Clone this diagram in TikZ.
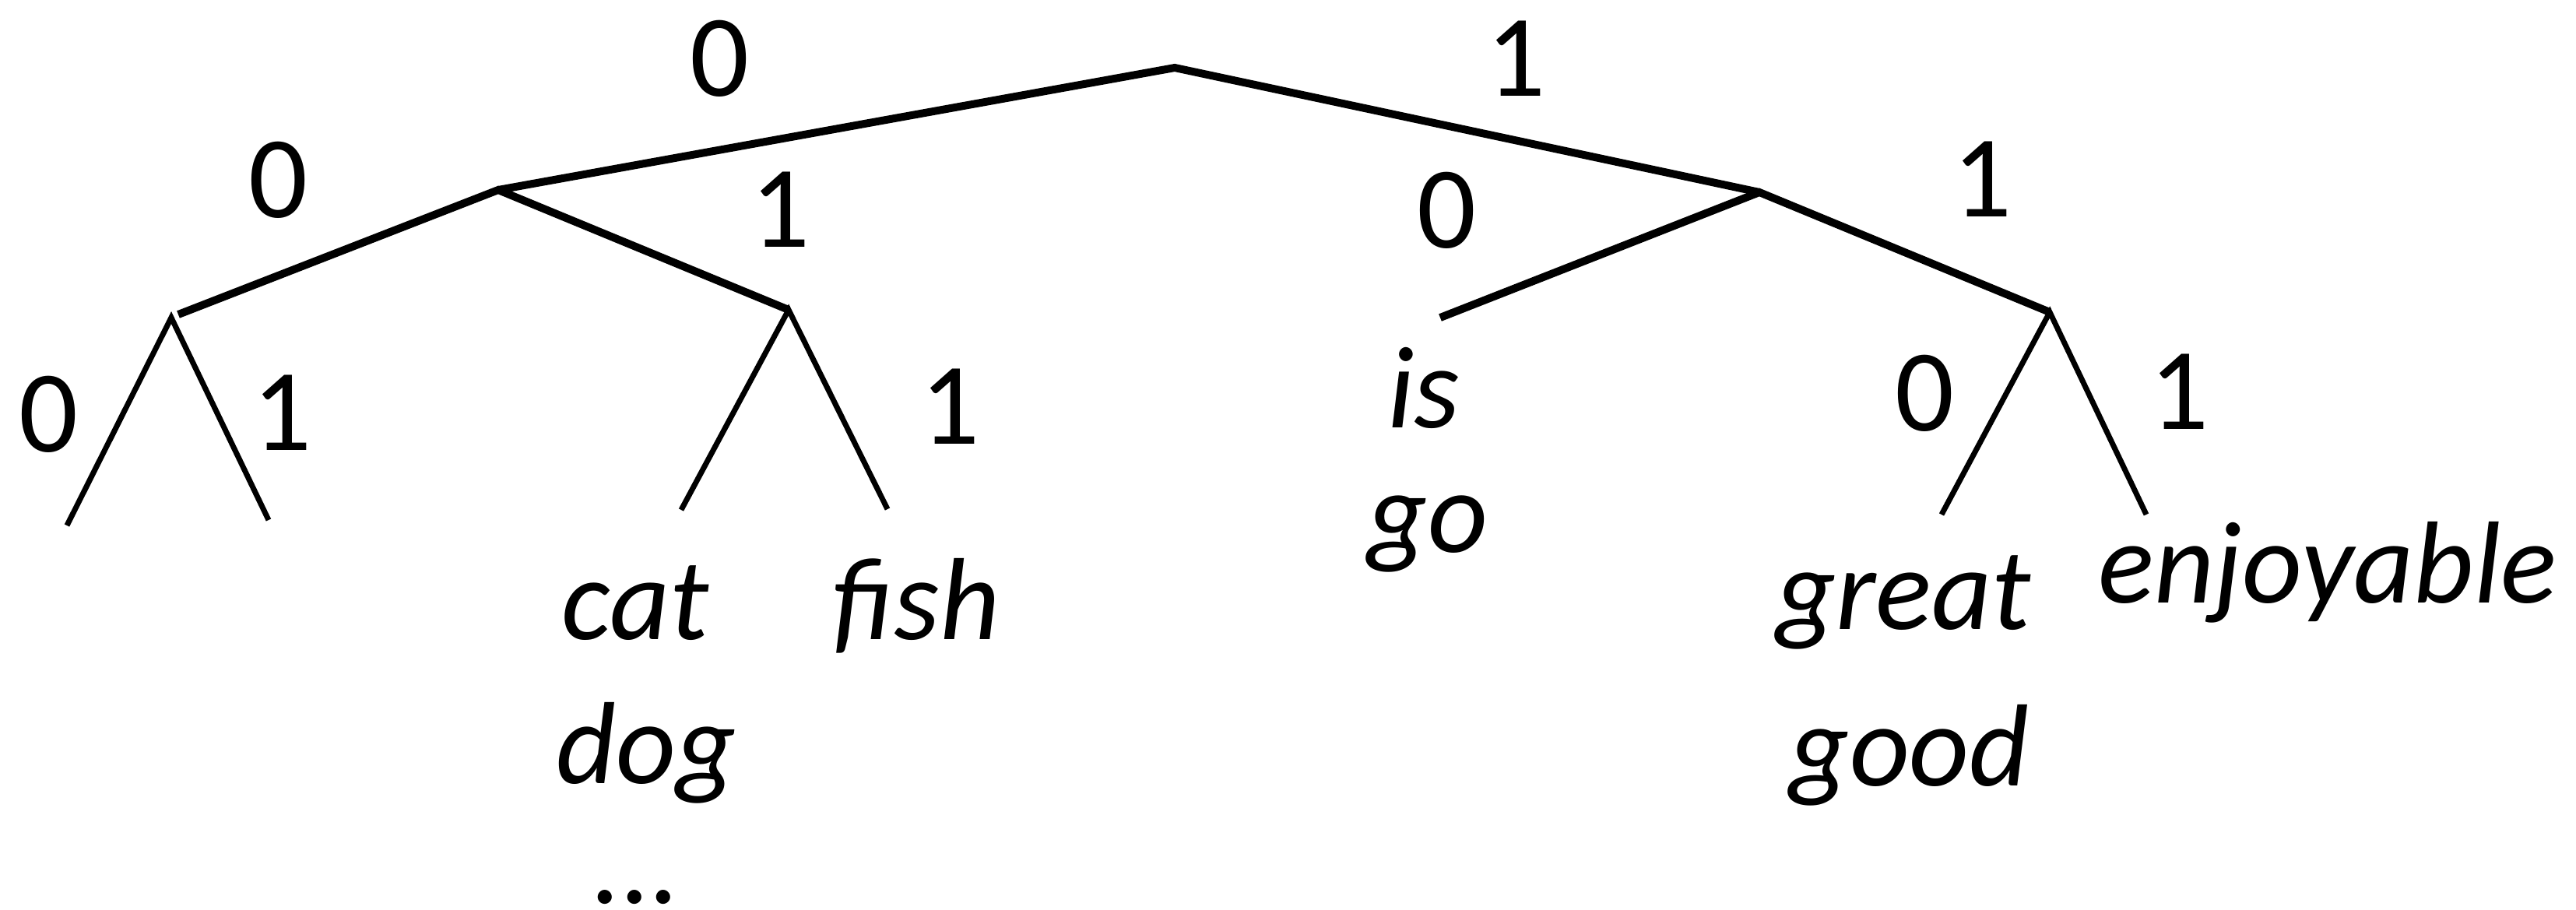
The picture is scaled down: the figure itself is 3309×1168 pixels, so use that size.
\documentclass[tikz,border=0pt]{standalone}
\usepackage{fontspec}
\setmainfont{Carlito}
\begin{document}
\begin{tikzpicture}[x=1pt,y=-1pt,
  thickedge/.style={line width=10pt},
  thinedge/.style={line width=7pt},
  bit/.style={inner sep=0pt,anchor=base,font=\fontsize{150}{180}\selectfont},
  word/.style={inner sep=0pt,anchor=base,font=\fontsize{150}{180}\selectfont\itshape}]
\clip (0,0) rectangle (3309,1168);
% tree points
\coordinate (r) at (1509,87);
\coordinate (a) at (640,244);
\coordinate (b) at (2260,247);
\coordinate (aa) at (229,404);
\coordinate (aatop) at (220,408);
\coordinate (aal) at (86,675);
\coordinate (aar) at (345,668);
\coordinate (ab) at (1013,398);
\coordinate (abl) at (875,655);
\coordinate (abr) at (1140,654);
\coordinate (ba) at (1850,408);
\coordinate (bb) at (2633,401);
\coordinate (bbl) at (2494,661);
\coordinate (bbr) at (2757,661);
% edges
\draw[thickedge] (a) -- (r) -- (b);
\draw[thickedge] (aa) -- (a) -- (ab);
\draw[thickedge] (ba) -- (b) -- (bb);
\draw[thinedge] (aal) -- (aatop) -- (aar);
\draw[thinedge] (abl) -- (ab) -- (abr);
\draw[thinedge] (bbl) -- (bb) -- (bbr);
% bit labels
\node[bit] (l0) at (925,123) {0};
\node[bit] (l1) at (1947,123) {1};
\node[bit] (l00) at (358,279) {0};
\node[bit] (l01) at (1003,317) {1};
\node[bit] (l10) at (1858,318) {0};
\node[bit] (l11) at (2546,278) {1};
\node[bit] (l000) at (63,580) {0};
\node[bit] (l001) at (363,578) {1};
\node[bit] (l011) at (1220,570) {1};
\node[bit] (l110) at (2472,553) {0};
\node[bit] (l111) at (2799,551) {1};
% words
\node[word] (wis) at (1829,549) {is};
\node[word] (wgo) at (1834,709) {go};
\node[word] (wcat) at (816,821) {cat};
\node[word] (wdog) at (830,1006) {dog};
\node[word] (wdots) at (818,1160) {...};
\node[word] (wfish) at (1177,821) {fish};
\node[word] (wgreat) at (2445,808) {great};
\node[word] (wgood) at (2453,1009) {good};
\node[word] (wenj) at (2990,774) {enjoyable};
\end{tikzpicture}
\end{document}
